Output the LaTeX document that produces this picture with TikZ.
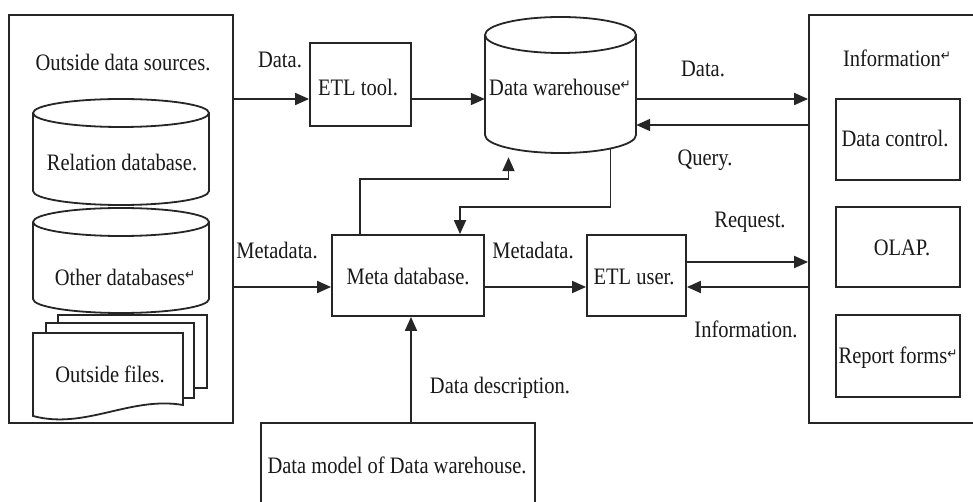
\documentclass[tikz,border=0pt]{standalone}
\usepackage{fontspec}
\setmainfont{Liberation Serif}
\newfontfamily\symfont{DejaVu Sans}
\usetikzlibrary{arrows.meta,calc}
\newcommand{\tx}[1]{\scalebox{1}[1.15]{#1}}
\newcommand{\rmark}{{\symfont\fontsize{12}{12}\selectfont\raisebox{5pt}{↵}}}
\newcommand{\dbcyl}[6]{% name, x1, ytop, x2, ybot, ry
  \node[inner sep=0pt, minimum width={(#4)-(#2)}, minimum height={(#5)-(#3)}] (#1) at ({((#2)+(#4))/2},{((#3)+(#5))/2}) {};
  \pgfmathsetmacro{\cylrx}{((#4)-(#2))/2}
  \pgfmathsetmacro{\cylcx}{((#2)+(#4))/2}
  \draw[ln] (\cylcx,{(#3)+(#6)}) ellipse[x radius=\cylrx pt, y radius=#6pt];
  \draw[ln] (#2,{(#3)+(#6)}) -- (#2,{(#5)-(#6)}) arc[start angle=180, end angle=360, x radius=\cylrx pt, y radius=#6pt] -- (#4,{(#3)+(#6)});
}
\begin{document}
\begin{tikzpicture}[x=1pt,y=-1pt,
  ln/.style={draw=black!85, line width=1.8pt},
  box/.style={ln, inner sep=0pt},
  lab/.style={inner sep=0pt, font=\fontsize{20.5}{24}\selectfont, text=black!90},
  arr/.style={ln, -{Triangle[length=14pt,width=12pt]}}]
\useasboundingbox (0,0) rectangle (973,502);
\clip (0,0) rectangle (973,502);
\fill[white] (0,0) rectangle (973,502);

% ---- outside data sources ----
\node[box, minimum width=224, minimum height=408] (src) at (121,219) {};
\node[lab] (srct) at (123,62) {\tx{Outside data sources.}};
\dbcyl{rel}{33}{99}{209}{205}{14}
\node[lab] (relt) at (122,162) {\tx{Relation database.}};
\dbcyl{oth}{33}{208}{209}{313}{14}
\node[lab] (otht) at (125,277) {\tx{Other databases\rmark}};
% outside files (multi-document)
\draw[ln, fill=white] (58,315) rectangle (207,388);
\draw[ln, fill=white] (46,323) rectangle (194,398);
\draw[ln, fill=white] (33,333) -- (183,333) -- (183,405)
  .. controls (130,396) and (85,430) .. (33,416) -- cycle;
\node[lab] (filt) at (110,374) {\tx{Outside files.}};

% ---- main flow ----
\coordinate (r1) at (0,99);
\coordinate (r2) at (0,125);
\coordinate (r3) at (0,262);
\coordinate (r4) at (0,287);
\node[box, minimum width=101, minimum height=83] (etl) at (360.5,84.5) {};
\node[lab] (etlt) at (358,87) {\tx{ETL tool.}};
\dbcyl{dw}{485}{17}{636}{153}{18}
\node[lab] (dwt) at (560,87) {\tx{Data warehouse\rmark}};

% ---- information ----
\node[box, minimum width=200, minimum height=408] (info) at (909,219) {};
\node[lab] (infot) at (897,58) {\tx{Information\rmark}};
\node[box, minimum width=124, minimum height=81] (dc) at (898,139.5) {};
\node[lab] (dct) at (895,138) {\tx{Data control.}};
\node[box, minimum width=124, minimum height=80] (olap) at (898,247) {};
\node[lab] (olapt) at (902,248) {\tx{OLAP.}};
\node[box, minimum width=124, minimum height=82] (rep) at (898,356) {};
\node[lab] (rept) at (898,358) {\tx{Report forms\rmark}};

% ---- meta / user ----
\node[box, minimum width=152, minimum height=81] (meta) at (408,275.5) {};
\node[lab] (metat) at (408,276) {\tx{Meta database.}};
\node[box, minimum width=99, minimum height=81] (user) at (636.5,275.5) {};
\node[lab] (usert) at (634,277) {\tx{ETL user.}};
\node[box, minimum width=274, minimum height=100] (dm) at (398,473) {};
\node[lab] (dmt) at (397,465) {\tx{Data model of Data warehouse.}};

% ---- connectors ----
\draw[arr] (src.east |- r1) -- (etl.west |- r1);
\node[lab] (l1) at (280,60) {\tx{Data.}};
\draw[arr] (etl.east |- r1) -- (dw.west |- r1);
\draw[arr] (dw.east |- r1) -- (info.west |- r1);
\node[lab] (l2) at (703,69) {\tx{Data.}};
\draw[arr] (info.west |- r2) -- (dw.east |- r2);
\node[lab] (l3) at (705,160) {\tx{Query.}};
\draw[arr] (src.east |- r4) -- (meta.west |- r4);
\node[lab] (l4) at (277,250) {\tx{Metadata.}};
\draw[arr] (meta.east |- r4) -- (user.west |- r4);
\node[lab] (l5) at (533,250) {\tx{Metadata.}};
\draw[arr] (user.east |- r3) -- (info.west |- r3);
\node[lab] (l6) at (750,222) {\tx{Request.}};
\draw[arr] (info.west |- r4) -- (user.east |- r4);
\node[lab] (l7) at (746,329) {\tx{Information.}};
\draw[arr] ([xshift=3pt]dm.north -| meta.south) -- ([xshift=3pt]meta.south);
\node[lab] (l8) at (500,388) {\tx{Data description.}};
\draw[arr] ([xshift=-48pt]meta.north) -- ++(0,-55) -| ([xshift=-52pt,yshift=-4pt]dw.south);
\draw[arr] ([xshift=50pt,yshift=5pt]dw.south) -- ++(0,59) -| ([xshift=52pt]meta.north);
\end{tikzpicture}
\end{document}
